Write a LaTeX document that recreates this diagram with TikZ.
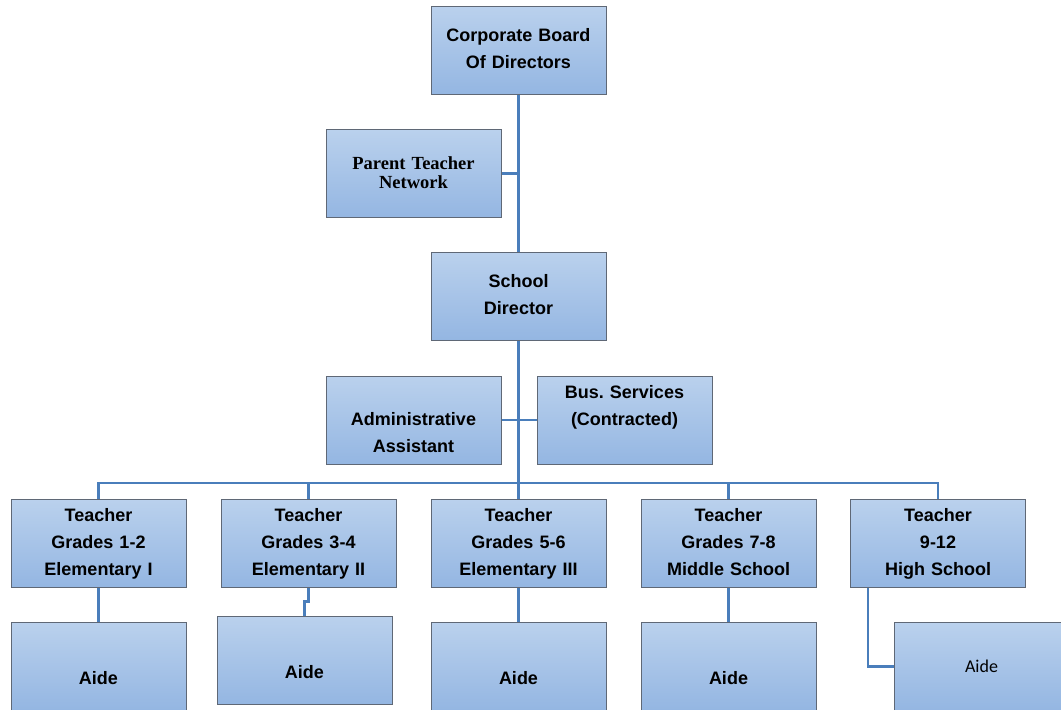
\documentclass[tikz,border=0pt]{standalone}
\usepackage{fontspec}
\setmainfont{Liberation Sans}
\newfontfamily\timesfont{Liberation Serif}
\newfontfamily\calibrifont{Carlito}
\usepackage{xcolor}
\usepackage{tikz}
\usetikzlibrary{positioning}
\definecolor{linkblue}{RGB}{74,126,187}
\definecolor{boxedge}{RGB}{95,104,118}
\definecolor{boxtop}{RGB}{186,209,237}
\definecolor{boxbottom}{RGB}{148,182,226}
\frenchspacing

\begin{document}
\begin{tikzpicture}[x=1pt,
				y=-1pt,
				box/.style={draw=boxedge, line width=1pt, top color=boxtop, bottom color=boxbottom,
					minimum width=175pt, minimum height=88pt, text width=170pt, align=center,
					inner sep=0pt, font=\bfseries\fontsize{18}{27}\selectfont,
					execute at begin node=\strut, execute at end node=\strut},
				link/.style={draw=linkblue, line width=2.6pt}]
				\useasboundingbox (0,0) rectangle (1061,710);
				% top of the chart
				\node at (518.5,50) (corp) [box] {Corporate Board\\Of Directors};
				\node at (413.5,173.5) (ptn) [box, font=\timesfont\bfseries\fontsize{18.5}{19}\selectfont] {\rule{0pt}{17pt}Parent Teacher\\Network};
				\node at (518.5,296) (director) [box] {School\\Director};
				\node at (413.5,420) (admin) [box] {\\Administrative\\Assistant};
				\node at (624.5,420) (bus) [box] {Bus. Services\\(Contracted)\\};
				% teachers
				\node at (98.5,543) (t1) [box] {Teacher\\Grades 1-2\\Elementary I};
				\node at (308.5,543) (t2) [box] {Teacher\\Grades 3-4\\Elementary II};
				\node at (518.5,543) (t3) [box] {Teacher\\Grades 5-6\\Elementary III};
				\node at (728.5,543) (t4) [box] {Teacher\\Grades 7-8\\Middle School};
				\node at (938,543) (t5) [box] {Teacher\\9-12\\High School};
				% aides
				\node at (98.5,666) (a1) [box] {\\Aide};
				\node at (304.5,660) (a2) [box] {\\Aide};
				\node at (518.5,666) (a3) [box] {\\Aide};
				\node at (728.5,666) (a4) [box] {\\Aide};
				\node at (981.5,666.5) (a5) [box, font=\calibrifont\fontsize{18}{30}\selectfont] {Aide};
				\coordinate (hub) at (518.5,483);
				% connectors
				\draw[link] (corp.south) -- (director.north);
				\draw[link] (ptn.east) -- (ptn.east -| corp.south);
				\draw[link] (director.south) -- (t3.north);
				\draw[link] (admin.east) -- (bus.west);
				\draw[link] (t1.north) |- (hub) -| (t5.north);
				\draw[link] (t2.north) -- (t2.north |- hub);
				\draw[link] (t4.north) -- (t4.north |- hub);
				\draw[link] (t1.south) -- (a1.north);
				\draw[link] (t2.south) -- ++(0,14) -| (a2.north);
				\draw[link] (t3.south) -- (a3.north);
				\draw[link] (t4.south) -- (a4.north);
				\draw[link] ([xshift=18pt]t5.south west) |- (a5.west);
			\end{tikzpicture}
\end{document}
